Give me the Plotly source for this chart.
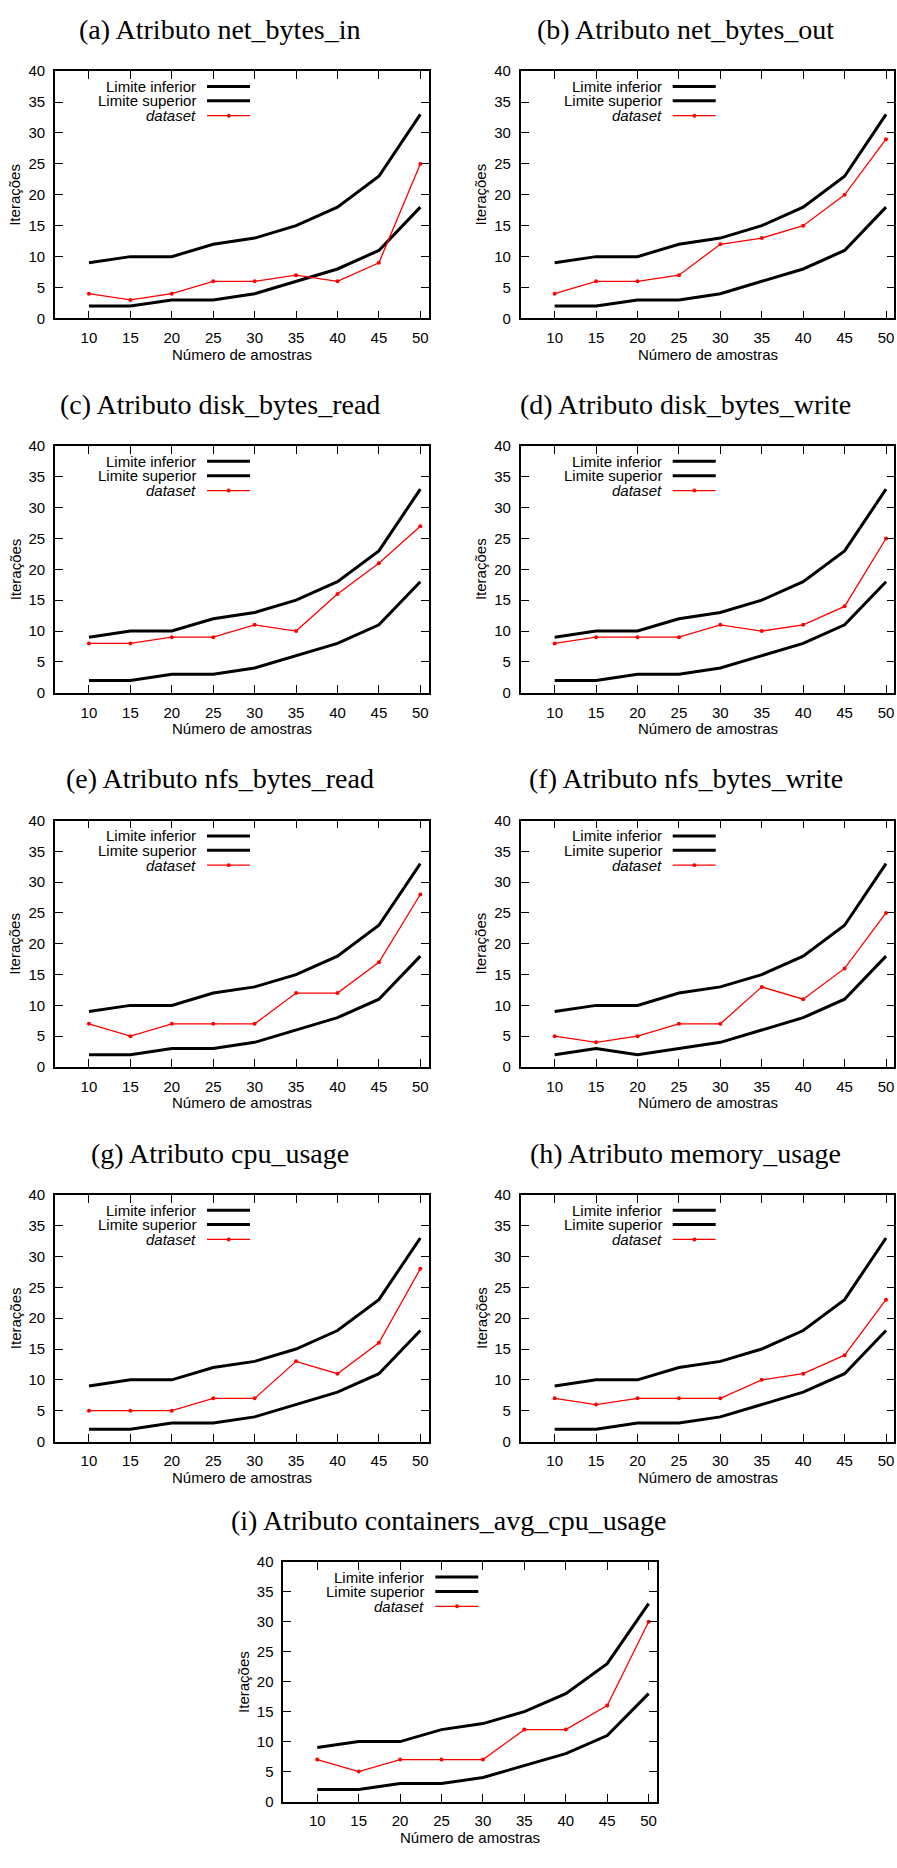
import plotly.graph_objects as go

# ---------------- data ----------------
amostras = [10, 15, 20, 25, 30, 35, 40, 45, 50]
limite_inferior = [2, 2, 3, 3, 4, 6, 8, 11, 18]
limite_inferior_f = [2, 3, 2, 3, 4, 6, 8, 11, 18]
limite_superior = [9, 10, 10, 12, 13, 15, 18, 23, 33]

dataset_a = [4, 3, 4, 6, 6, 7, 6, 9, 25]
dataset_b = [4, 6, 6, 7, 12, 13, 15, 20, 29]
dataset_c = [8, 8, 9, 9, 11, 10, 16, 21, 27]
dataset_d = [8, 9, 9, 9, 11, 10, 11, 14, 25]
dataset_e = [7, 5, 7, 7, 7, 12, 12, 17, 28]
dataset_f = [5, 4, 5, 7, 7, 13, 11, 16, 25]
dataset_g = [5, 5, 5, 7, 7, 13, 11, 16, 28]
dataset_h = [7, 6, 7, 7, 7, 10, 11, 14, 23]
dataset_i = [7, 5, 7, 7, 7, 12, 12, 16, 30]

titulos = [
    "(a) Atributo net_bytes_in",
    "(b) Atributo net_bytes_out",
    "(c) Atributo disk_bytes_read",
    "(d) Atributo disk_bytes_write",
    "(e) Atributo nfs_bytes_read",
    "(f) Atributo nfs_bytes_write",
    "(g) Atributo cpu_usage",
    "(h) Atributo memory_usage",
    "(i) Atributo containers_avg_cpu_usage",
]
datasets = [dataset_a, dataset_b, dataset_c, dataset_d, dataset_e,
            dataset_f, dataset_g, dataset_h, dataset_i]
inferiores = [limite_inferior, limite_inferior, limite_inferior, limite_inferior,
              limite_inferior, limite_inferior_f, limite_inferior, limite_inferior,
              limite_inferior]

y_ticks = [0, 5, 10, 15, 20, 25, 30, 35, 40]
legend_labels = ["Limite inferior", "Limite superior", "<i>dataset</i>"]
x_title = "Número de amostras"
y_title = "Iterações"

# ---------------- layout geometry (px) ----------------
W, H = 897, 1868
PW = 373.6
col_lefts = [55, 520.7]
row_tops = [62.7, 441, 819, 1196.7, 1567]
row_bots = [312.3, 690, 1067.7, 1445.7, 1809]
i_left = 283.3

def fx(p):
    return p / W

def fy(p):
    return 1 - p / H

SANS = "Liberation Sans"
SERIF = "Liberation Serif"

fig = go.Figure()
annotations = []
shapes = []
layout = {}

for k in range(9):
    if k < 8:
        left = col_lefts[k % 2]
        top = row_tops[k // 2]
        bot = row_bots[k // 2]
    else:
        left = i_left
        top = row_tops[4]
        bot = row_bots[4]
    right = left + PW
    n = "" if k == 0 else str(k + 1)
    xa, ya = "x" + n, "y" + n

    fig.add_trace(go.Scatter(x=amostras, y=inferiores[k], mode="lines",
                             line=dict(color="black", width=3),
                             xaxis=xa, yaxis=ya, showlegend=False))
    fig.add_trace(go.Scatter(x=amostras, y=limite_superior, mode="lines",
                             line=dict(color="black", width=3),
                             xaxis=xa, yaxis=ya, showlegend=False))
    fig.add_trace(go.Scatter(x=amostras, y=datasets[k], mode="lines+markers",
                             line=dict(color="#ff0000", width=1.3),
                             marker=dict(color="#ff0000", size=4),
                             xaxis=xa, yaxis=ya, showlegend=False))

    axcommon = dict(showline=True, linecolor="black", linewidth=1.6, mirror="ticks",
                    ticks="inside", ticklen=8, tickwidth=1.3, tickcolor="black",
                    showgrid=False, zeroline=False,
                    tickfont=dict(family=SANS, size=15, color="black"))
    layout["xaxis" + n] = dict(axcommon, domain=[fx(left), fx(right)], anchor=ya,
                               range=[5.9, 51], tickvals=amostras,
                               ticklabelstandoff=5)
    layout["yaxis" + n] = dict(axcommon, domain=[fy(bot), fy(top)], anchor=xa,
                               range=[0, 40], tickvals=y_ticks,
                               ticklabelstandoff=5)

    cx = (left + right) / 2
    # panel title
    annotations.append(dict(text=titulos[k], x=fx(cx - 22), y=fy(top - 42),
                            xref="paper", yref="paper", showarrow=False,
                            xanchor="center", yanchor="middle",
                            font=dict(family=SERIF, size=28, color="black")))
    # axis titles
    annotations.append(dict(text=x_title, x=fx(cx), y=fy(bot + 36),
                            xref="paper", yref="paper", showarrow=False,
                            xanchor="center", yanchor="middle",
                            font=dict(family=SANS, size=15, color="black")))
    annotations.append(dict(text=y_title, x=fx(left - 40), y=fy((top + bot) / 2),
                            xref="paper", yref="paper", showarrow=False,
                            textangle=-90, xanchor="center", yanchor="middle",
                            font=dict(family=SANS, size=15, color="black")))
    # legend (gnuplot style: label then sample)
    offs = [15.5, 30, 45]
    for j, lab in enumerate(legend_labels):
        yy = top + offs[j]
        annotations.append(dict(text=lab, x=fx(left + 143), y=fy(yy),
                                xref="paper", yref="paper", showarrow=False,
                                xanchor="right", yanchor="middle",
                                font=dict(family=SANS, size=15, color="black")))
        if j < 2:
            shapes.append(dict(type="line", xref="paper", yref="paper",
                               x0=fx(left + 152), x1=fx(left + 195),
                               y0=fy(yy), y1=fy(yy),
                               line=dict(color="black", width=3)))
        else:
            shapes.append(dict(type="line", xref="paper", yref="paper",
                               x0=fx(left + 152), x1=fx(left + 195),
                               y0=fy(yy), y1=fy(yy),
                               line=dict(color="#ff0000", width=1.3)))
            shapes.append(dict(type="circle", xref="paper", yref="paper",
                               x0=fx(left + 171.7), x1=fx(left + 175.7),
                               y0=fy(yy - 2), y1=fy(yy + 2),
                               fillcolor="#ff0000", line=dict(width=0)))

fig.update_layout(width=W, height=H, margin=dict(l=0, r=0, t=0, b=0),
                  paper_bgcolor="white", plot_bgcolor="white",
                  annotations=annotations, shapes=shapes, **layout)

fig.write_html("out.html")
